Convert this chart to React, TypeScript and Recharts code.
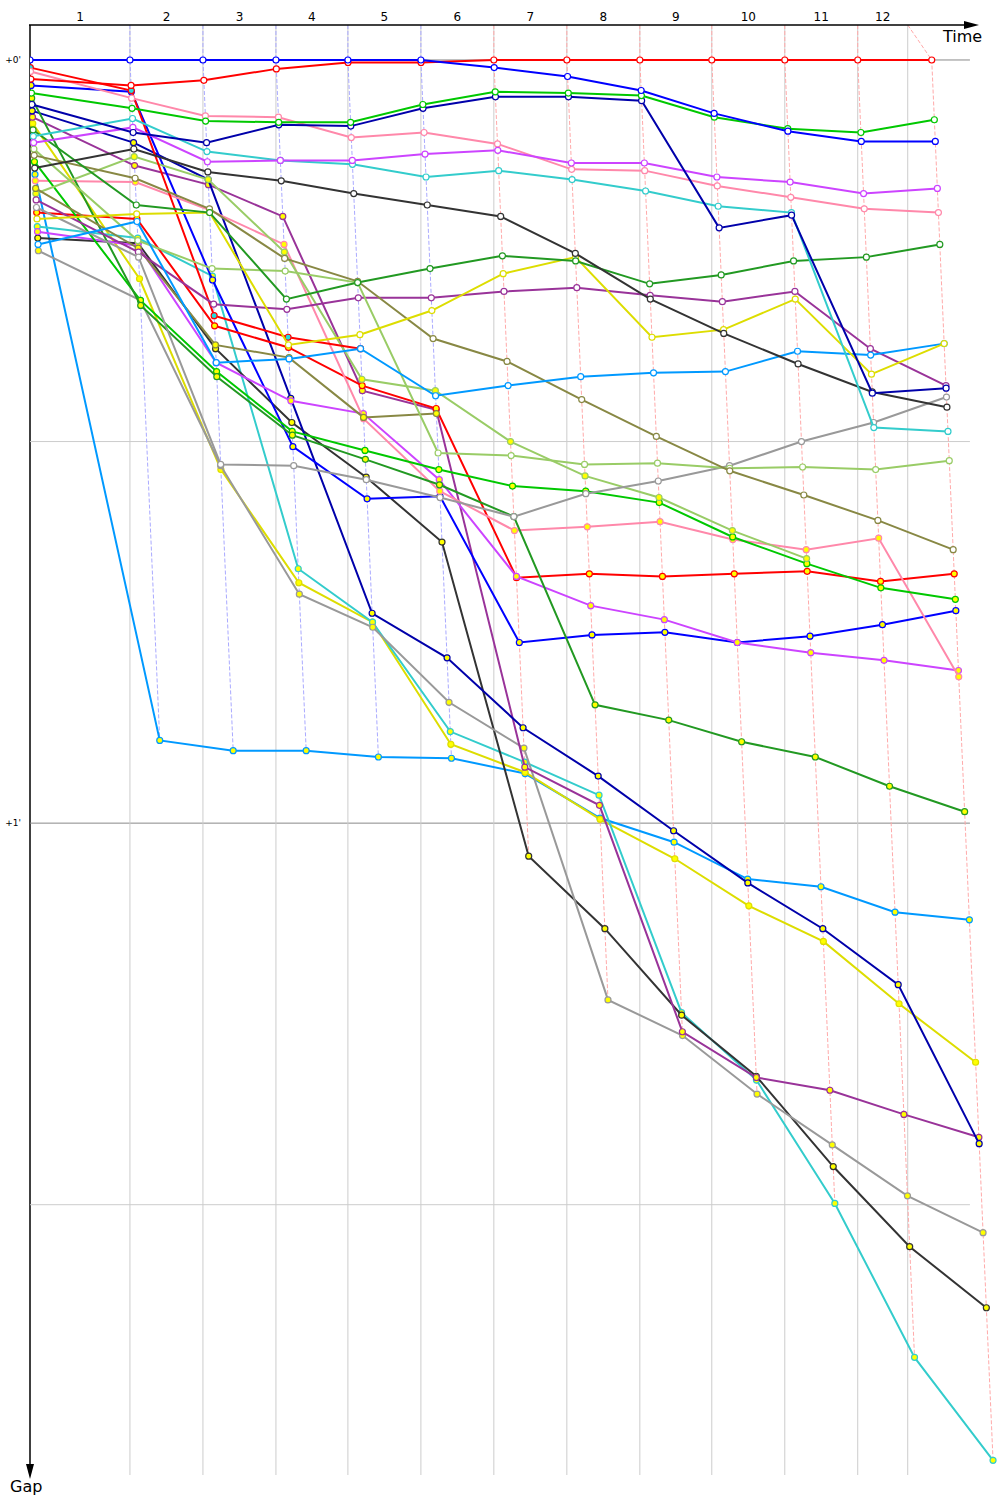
import React from 'react';
import { ComposedChart, Scatter, XAxis, YAxis } from 'recharts';

// ---- axis data ----
const lapLabels = ['1', '2', '3', '4', '5', '6', '7', '8', '9', '10', '11', '12'];
// leader cumulative race time (s) at start and after each lap
const leaderTimes = [0, 179.5, 310.6, 441.7, 570.9, 702.0, 833.0, 964.1, 1095.2, 1224.4, 1355.5, 1486.5, 1619.4];
// vertical lap grid lines (s)
const gridTimes = [179.5, 310.6, 441.7, 570.9, 702.0, 833.0, 964.1, 1095.2, 1224.4, 1355.5, 1486.5, 1576.3];
const lapLineColors = ['#aaaaff', '#aaaaff', '#aaaaff', '#aaaaff', '#aaaaff', '#ffaaaa', '#ffaaaa', '#ffaaaa', '#ffaaaa', '#ffaaaa', '#ffaaaa', '#ffaaaa'];
const gapTicks = [0, 60];
const gapTickLabels = ["+0'", "+1'"];
const gapLines = [0, 30, 60, 90];
const gapLineColors = ['#888888', '#cccccc', '#888888', '#cccccc'];
const timeAxisEnd = 1688; // end of the drawn time axis / grid (s)
const timeDomain = [0, 1742];
const gapDomain = [-2.75, 111.25];

// ---- gaps to leader (s): start, lap 1 .. lap 12 ----
const gapB1 = [0, 0, 0, 0, 0, 0, 0.6, 1.3, 2.4, 4.2, 5.6, 6.4, 6.4];
const gapR1 = [1.5, 2.0, 1.6, 0.7, 0.2, 0.2, 0, 0, 0, 0, 0, 0, 0];
const gapG1 = [2.6, 3.8, 4.8, 4.9, 4.9, 3.5, 2.5, 2.6, 2.8, 4.5, 5.4, 5.7, 4.7];
const gapN1 = [3.5, 5.7, 6.5, 5.1, 5.2, 3.8, 2.9, 2.9, 3.2, 13.2, 12.2, 26.2, 25.8];
const gapM1 = [6.5, 5.3, 8.0, 7.9, 7.9, 7.4, 7.1, 8.1, 8.1, 9.2, 9.6, 10.5, 10.1];
const gapC1 = [6.0, 4.6, 7.2, 7.9, 8.2, 9.2, 8.7, 9.4, 10.3, 11.5, 12.0, 28.9, 29.2];
const gapP1 = [0.9, 3.0, 4.4, 4.5, 6.1, 5.7, 6.6, 8.6, 8.7, 9.9, 10.8, 11.7, 12.0];
const gapK1 = [8.5, 7.0, 8.8, 9.5, 10.5, 11.4, 12.3, 15.2, 18.8, 21.5, 23.9, 26.1, 27.3];
const gapDG1 = [5.5, 11.4, 12.0, 18.8, 17.5, 16.4, 15.4, 15.8, 17.6, 16.9, 15.8, 15.5, 14.5];
const gapY1 = [12.5, 12.1, 12.0, 22.4, 21.6, 19.7, 16.8, 15.5, 21.8, 21.2, 18.8, 24.7, 22.3];
const gapLB2 = [14.5, 12.7, 23.8, 23.5, 22.7, 26.4, 25.6, 24.9, 24.6, 24.5, 22.9, 23.2, 22.3];
const gapO1 = [7.5, 9.3, 11.7, 15.6, 17.4, 21.9, 23.7, 26.7, 29.6, 32.3, 34.2, 36.2, 38.5];
const gapLG1 = [7.0, 14.2, 16.4, 16.6, 17.5, 30.9, 31.1, 31.8, 31.7, 32.1, 32.0, 32.2, 31.5];
const gapGR1 = [11.6, 15.5, 31.8, 31.9, 33.0, 34.4, 35.9, 34.1, 33.1, 31.9, 30.0, 28.5, 26.5];
const gapPU1 = [11.0, 15.1, 19.2, 19.6, 18.7, 18.7, 18.2, 17.9, 18.5, 19.0, 18.2, 22.7, 25.6];
const gapLB1 = [9.0, 53.5, 54.3, 54.3, 54.8, 54.9, 56.1, 59.6, 61.5, 64.4, 65.0, 67.0, 67.6];
const gapY2 = [5.0, 17.2, 32.2, 41.1, 44.2, 53.8, 56.0, 59.7, 62.8, 66.5, 69.3, 74.2, 78.8];
const gapC2 = [13.1, 14.0, 17.0, 40.0, 44.2, 52.8, 55.2, 57.8, 74.9, 80.2, 89.9, 102.0, 110.1];
const gapK2 = [14.0, 14.4, 22.7, 28.5, 32.8, 37.9, 62.6, 68.3, 75.1, 79.9, 87.0, 93.3, 98.1];
const gapGR2 = [15.0, 18.9, 31.9, 42.0, 44.6, 50.5, 54.1, 73.9, 76.7, 81.3, 85.3, 89.3, 92.2];
const gapPU2 = [4.5, 8.3, 9.8, 12.3, 26.0, 27.5, 55.6, 58.6, 76.4, 80.0, 81.0, 82.9, 84.7];
const gapN2 = [4.0, 6.5, 9.4, 26.6, 43.5, 47.0, 52.5, 56.3, 60.6, 64.7, 68.3, 72.7, 85.2];
const gapB2 = [2.0, 2.5, 17.3, 30.4, 34.5, 34.3, 45.8, 45.2, 45.0, 45.8, 45.3, 44.4, 43.3];
const gapR2 = [0.6, 2.4, 20.1, 21.8, 22.7];
const gapR3 = [12.0, 12.5, 20.9, 22.6, 25.6, 27.4, 40.7, 40.4, 40.6, 40.4, 40.2, 41.0, 40.4];
const gapM2 = [13.5, 14.6, 23.8, 26.8, 27.8, 33.0, 40.6, 42.9, 44.0, 45.8, 46.6, 47.2, 48.0];
const gapP2 = [9.5, 9.6, 11.8, 14.5, 28.2, 33.9, 37.0, 36.7, 36.3, 37.7, 38.5, 37.6, 48.5];
const gapG2 = [8.0, 18.9, 24.5, 29.2, 30.7, 32.2, 33.5, 33.9, 34.8, 37.5, 39.6, 41.5, 42.4];
const gapDG2 = [3.0, 19.3, 24.9, 29.5, 31.4, 33.4, 35.9, 50.7, 51.9, 53.6, 54.8, 57.1, 59.1];
const gapLG2 = [10.5, 7.6, 9.4, 15.1, 25.1, 26.0, 30.0, 32.7, 34.4, 37.0, 39.2];
const gapO2 = [10.1, 14.8, 22.4, 23.4, 28.1, 27.8];

const BLUE = '#0000ff';
const NAVY = '#0000aa';
const RED = '#ff0000';
const GREEN = '#00c800';
const DKGREEN = '#229922';
const VIOLET = '#cc44ff';
const CYAN = '#33cccc';
const PINK = '#ff88aa';
const BLACK = '#333333';
const YELLOW = '#dddd00';
const LTBLUE = '#0099ff';
const OLIVE = '#888844';
const LTGREEN = '#99cc66';
const GRAY = '#999999';
const PURPLE = '#993399';

const W = '#ffffff';
const Yf = '#ffff00';
const Cf = '#22dddd';

const driverGaps = [
  gapLB1, gapY2, gapC2, gapK2, gapGR2, gapPU2, gapN2, gapB2, gapR3, gapM2, gapP2, gapG2, gapDG2, gapLG2, gapO2, gapR2,
  gapPU1, gapGR1, gapLG1, gapO1, gapLB2, gapY1, gapDG1, gapK1, gapP1, gapC1, gapM1, gapN1, gapG1, gapR1, gapB1,
];
const driverColors = [
  LTBLUE, YELLOW, CYAN, BLACK, GRAY, PURPLE, NAVY, BLUE, RED, VIOLET, PINK, GREEN, DKGREEN, LTGREEN, OLIVE, RED,
  PURPLE, GRAY, LTGREEN, OLIVE, LTBLUE, YELLOW, DKGREEN, BLACK, PINK, CYAN, VIOLET, NAVY, GREEN, RED, BLUE,
];
const driverFills = [
  Yf, Yf, Yf, Yf, Yf, Yf, Yf, Yf, Yf, Yf, Yf, Yf, Yf, Yf, Yf, Cf,
  W, W, W, W, W, W, W, W, W, W, W, W, W, W, W,
];

const toPoints = (gaps: number[]) => gaps.map((g, i) => ({ x: leaderTimes[i] + g, y: g }));

const lapLines = gridTimes.map((gt, li) => {
  const lap = li + 1;
  const pts: { x: number; y: number }[] = [];
  driverGaps.forEach((gs) => {
    if (gs.length > lap) pts.push({ x: leaderTimes[lap] + gs[lap], y: gs[lap] });
  });
  pts.sort((a, b) => a.y - b.y);
  return [{ x: gt, y: gapDomain[0] }, ...pts];
});

const lapMids = gridTimes.map((t, i) => ((i === 0 ? 0 : gridTimes[i - 1]) + t) / 2);

const noShape = () => <g />;
const makeDot = (color: string, fill: string) => (props: any) => {
  const { cx, cy } = props;
  if (cx == null || cy == null) return <g />;
  return <circle cx={cx} cy={cy} r={3} fill={fill} stroke={color} strokeWidth={1.2} />;
};

const FONT = 'DejaVu Sans, Verdana, sans-serif';

export default function App() {
  return (
    <div style={{ position: 'absolute', left: 0, top: 0, width: 1000, height: 1500, background: '#fff' }}>
      <ComposedChart width={1000} height={1500} margin={{ top: 0, right: 0, bottom: 25, left: 0 }}>
        <XAxis
          type="number"
          dataKey="x"
          orientation="top"
          height={25}
          domain={timeDomain}
          allowDataOverflow
          ticks={lapMids}
          interval={0}
          tickFormatter={(v: number, i: number) => lapLabels[i] ?? ''}
          tickLine={false}
          tickSize={0}
          tickMargin={4}
          axisLine={false}
          tick={{ fontSize: 12, fill: '#000', fontFamily: FONT }}
        />
        <YAxis
          type="number"
          dataKey="y"
          width={30}
          reversed
          domain={gapDomain}
          allowDataOverflow
          ticks={gapTicks}
          interval={0}
          tickFormatter={(v: number, i: number) => gapTickLabels[i] ?? ''}
          tickLine={false}
          tickSize={0}
          tickMargin={9}
          axisLine={{ stroke: '#000', strokeWidth: 1.5 }}
          tick={{ fontSize: 9, fill: '#000', fontFamily: FONT }}
        />
        {gapLines.map((g, i) => (
          <Scatter
            key={'h' + i}
            data={[{ x: timeDomain[0], y: g }, { x: timeAxisEnd, y: g }]}
            fill={gapLineColors[i]}
            line={{ stroke: gapLineColors[i], strokeWidth: 1 }}
            shape={noShape}
            isAnimationActive={false}
          />
        ))}
        {gridTimes.map((t, i) => (
          <Scatter
            key={'v' + i}
            data={[{ x: t, y: gapDomain[0] }, { x: t, y: gapDomain[1] }]}
            fill="#cccccc"
            line={{ stroke: '#cccccc', strokeWidth: 1 }}
            shape={noShape}
            isAnimationActive={false}
          />
        ))}
        {lapLines.map((pts, i) => (
          <Scatter
            key={'l' + i}
            data={pts}
            fill={lapLineColors[i]}
            line={{ stroke: lapLineColors[i], strokeWidth: 1, strokeDasharray: '4 2' }}
            shape={noShape}
            isAnimationActive={false}
          />
        ))}
        {driverGaps.map((gs, i) => (
          <Scatter
            key={'d' + i}
            data={toPoints(gs)}
            fill={driverColors[i]}
            line={{ stroke: driverColors[i], strokeWidth: 2 }}
            shape={makeDot(driverColors[i], driverFills[i])}
            isAnimationActive={false}
          />
        ))}
      </ComposedChart>
      <svg width={1000} height={1500} style={{ position: 'absolute', left: 0, top: 0, pointerEvents: 'none' }}>
        <line x1={29} y1={25} x2={968} y2={25} stroke="#000" strokeWidth={1.5} />
        <polygon points="964,21 979,25 964,29" fill="#000" />
        <polygon points="26,1464 30,1479 34,1464" fill="#000" />
        <text x={943} y={42} fontSize={16} fontFamily={FONT} fill="#000">Time</text>
        <text x={10} y={1492} fontSize={16} fontFamily={FONT} fill="#000">Gap</text>
      </svg>
    </div>
  );
}
